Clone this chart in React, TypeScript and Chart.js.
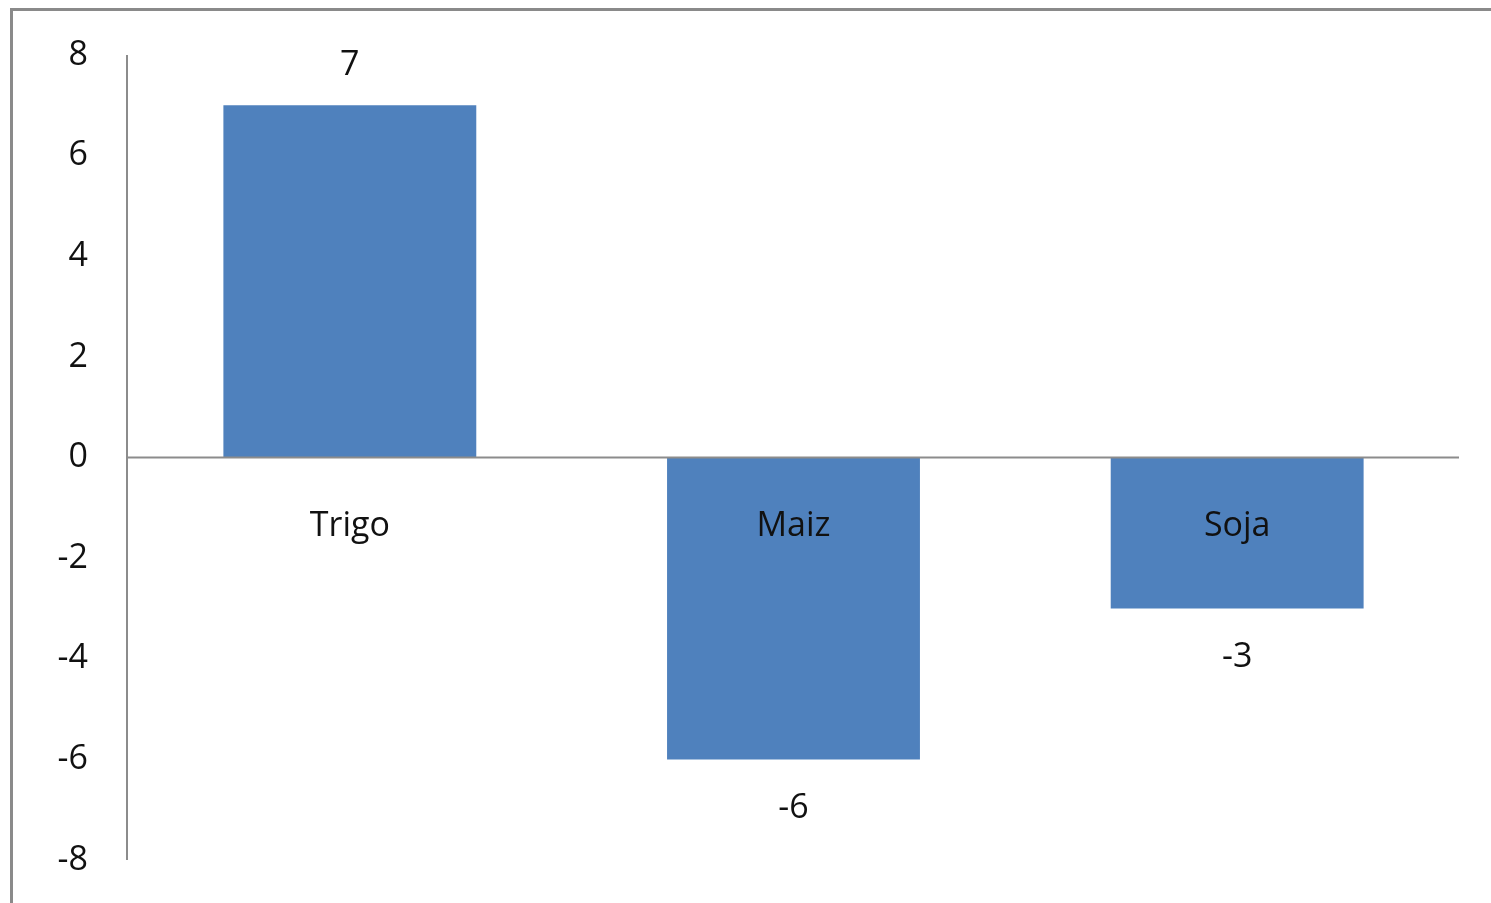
import React, { useEffect, useRef } from "react";
import { Chart, registerables } from "chart.js";

Chart.register(...registerables);

const categories = ["Trigo", "Maiz", "Soja"];
const values = [7, -6, -3];
const yTicks = [8, 6, 4, 2, 0, -2, -4, -6, -8];

const FONT = "'Open Sans', sans-serif";
const BAR = "#4F81BD";
const AXIS = "#8c8c8c";

const overlay = {
  id: "overlay",
  afterDatasetsDraw(chart: any) {
    const { ctx, chartArea, scales } = chart;
    const y = scales.y;
    const x = scales.x;
    const y0 = y.getPixelForValue(0);
    ctx.save();
    ctx.strokeStyle = AXIS;
    ctx.lineWidth = 2;
    ctx.beginPath();
    ctx.moveTo(chartArea.left - 1, chartArea.top);
    ctx.lineTo(chartArea.left - 1, chartArea.bottom);
    ctx.stroke();
    ctx.beginPath();
    ctx.moveTo(chartArea.left, y0);
    ctx.lineTo(chartArea.right, y0);
    ctx.stroke();

    ctx.fillStyle = "#111";
    ctx.font = `34px ${FONT}`;
    ctx.textAlign = "center";
    ctx.textBaseline = "middle";
    categories.forEach((c, i) => {
      const px = x.getPixelForValue(i);
      ctx.fillText(c, px, y0 + 69);
      const v = values[i];
      const vy = y.getPixelForValue(v);
      ctx.fillText(String(v), px, v >= 0 ? vy - 40 : vy + 49);
    });
    ctx.restore();
  },
};

export default function App() {
  const ref = useRef<HTMLCanvasElement>(null);
  useEffect(() => {
    if (!ref.current) return;
    const chart = new Chart(ref.current, {
      type: "bar",
      data: {
        labels: categories,
        datasets: [
          {
            data: values,
            backgroundColor: BAR,
            borderWidth: 0,
            categoryPercentage: 1,
            barPercentage: 0.57,
          },
        ],
      },
      options: {
        animation: false,
        responsive: false,
        layout: { padding: { top: 55, bottom: 43, right: 32, left: 0 } },
        plugins: { legend: { display: false }, tooltip: { enabled: false } },
        scales: {
          x: { display: false },
          y: {
            min: -8,
            max: 8,
            afterFit(scale: any) {
              scale.width = 128;
              scale.paddingTop = 0;
              scale.paddingBottom = 0;
            },
            afterBuildTicks(scale: any) {
              scale.ticks = yTicks.map((v) => ({ value: v }));
            },
            grid: { display: false, drawTicks: false },
            border: { display: false },
            ticks: {
              padding: 40,
              color: "#111",
              font: { family: FONT, size: 34 },
            },
          },
        },
      },
      plugins: [overlay],
    });
    return () => chart.destroy();
  }, []);
  return (
    <div
      style={{
        position: "fixed",
        left: 0,
        top: 0,
        width: 1491,
        height: 903,
        overflow: "hidden",
        background: "#fff",
      }}
    >
      <div
        style={{
          position: "absolute",
          left: 10,
          top: 8,
          width: 1600,
          height: 1000,
          border: "3px solid #8a8a8a",
          boxSizing: "border-box",
        }}
      />
      <canvas
        ref={ref}
        width={1491}
        height={903}
        style={{ position: "absolute", left: 0, top: 0, width: 1491, height: 903 }}
      />
    </div>
  );
}
